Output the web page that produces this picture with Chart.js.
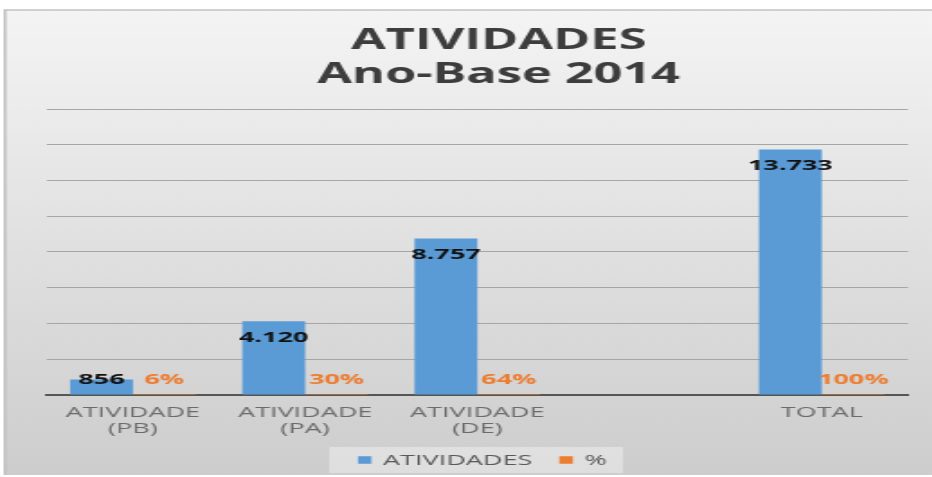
<!DOCTYPE html>
<html>
<head>
<meta charset="utf-8">
<script src="https://cdn.jsdelivr.net/npm/chart.js@4.4.1/dist/chart.umd.min.js"></script>
<style>
  html, body { margin: 0; padding: 0; background: #fff; overflow: hidden; }
  /* the source picture is stretched sideways, so the chart is drawn narrow and widened */
  #wrap { width: 518px; height: 477px; transform: scaleX(1.8); transform-origin: 0 0; }
</style>
</head>
<body>
<div id="wrap"><canvas id="chart" width="518" height="477"></canvas></div>
<script>
// Data
const categories = [['ATIVIDADE', '(PB)'], ['ATIVIDADE', '(PA)'], ['ATIVIDADE', '(DE)'], '', 'TOTAL'];
const atividades = [856, 4120, 8757, null, 13733];
const percentuais = [0.06, 0.30, 0.64, null, 1.00];
const titleLines = ['ATIVIDADES', 'Ano-Base 2014'];
const yMax = 16000;
const yStep = 2000;

Chart.defaults.font.family = '"Open Sans", sans-serif';

// thousands separator like pt-BR: 8757 -> 8.757
const fmtNum = v => String(v).replace(/\B(?=(\d{3})+(?!\d))/g, '.');
const fmtPct = v => Math.round(v * 100) + '%';

// grey frame behind everything
const frame = {
  id: 'frame',
  beforeDraw(chart) {
    const { ctx, width } = chart;
    ctx.save();
    ctx.fillStyle = '#fff';
    ctx.fillRect(0, 0, width, chart.height);
    const g = ctx.createLinearGradient(0, 10, 0, 475);
    g.addColorStop(0, '#f4f4f4');
    g.addColorStop(1, '#cdcdcd');
    ctx.fillStyle = g;
    ctx.fillRect(2.8, 10, width - 2.8, 465);
    ctx.strokeStyle = '#c2c2c2';
    ctx.lineWidth = 1.5;
    ctx.beginPath();
    ctx.moveTo(2.8, 475);
    ctx.lineTo(2.8, 10);
    ctx.lineTo(width, 10);
    ctx.stroke();
    ctx.restore();
  }
};

// legend drawn by hand so its place and spacing can follow the source
const bottomLegend = {
  id: 'bottomLegend',
  afterDraw(chart) {
    const ctx = chart.ctx;
    const cx = 268, cy = 460, box = 7.5, gap = 6.5, between = 15;
    ctx.save();
    ctx.font = '15px "Open Sans"';
    const items = chart.data.datasets.map(ds => ({
      text: ds.label, color: ds.backgroundColor, w: ctx.measureText(ds.label).width
    }));
    const total = items.reduce((s, it) => s + box + gap + it.w, 0) + between * (items.length - 1);
    let x = cx - total / 2;
    ctx.fillStyle = 'rgba(255,255,255,0.35)';
    ctx.fillRect(x - 16, cy - 13, total + 25, 26);
    ctx.textBaseline = 'middle';
    ctx.textAlign = 'left';
    items.forEach(it => {
      ctx.fillStyle = it.color;
      ctx.fillRect(x, cy - box / 2, box, box);
      x += box + gap;
      ctx.fillStyle = '#595959';
      ctx.fillText(it.text, x, cy + 1);
      x += it.w + between;
    });
    ctx.restore();
  }
};

// data labels: inside the end of each bar, kept above the axis
const valueLabels = {
  id: 'valueLabels',
  afterDatasetsDraw(chart) {
    const ctx = chart.ctx;
    ctx.save();
    ctx.font = 'bold 15px "Open Sans"';
    ctx.textAlign = 'center';
    ctx.textBaseline = 'middle';
    chart.data.datasets.forEach((ds, i) => {
      chart.getDatasetMeta(i).data.forEach((bar, j) => {
        const v = ds.data[j];
        if (v == null) return;
        const y = Math.min(bar.y + 16, bar.base - 15);
        ctx.fillStyle = i === 0 ? '#111' : '#ED7D31';
        ctx.fillText(i === 0 ? fmtNum(v) : fmtPct(v), bar.x, y);
      });
    });
    ctx.restore();
  }
};

// title sits a bit right of the plot centre in the source
const chartTitle = {
  id: 'chartTitle',
  afterDraw(chart) {
    const ctx = chart.ctx;
    ctx.save();
    ctx.font = 'bold 28px "Open Sans"';
    ctx.fillStyle = '#3d3d3d';
    ctx.textAlign = 'center';
    ctx.textBaseline = 'alphabetic';
    ctx.fillText(titleLines[0], 277, 49);
    ctx.fillText(titleLines[1], 277, 83);
    ctx.restore();
  }
};

new Chart(document.getElementById('chart'), {
  type: 'bar',
  data: {
    labels: categories,
    datasets: [
      {
        label: 'ATIVIDADES',
        data: atividades,
        backgroundColor: '#5B9BD5',
        categoryPercentage: 0.73,
        barPercentage: 1.0
      },
      {
        label: '%',
        data: percentuais,
        backgroundColor: '#ED7D31',
        inflateAmount: 0,
        categoryPercentage: 0.73,
        barPercentage: 1.0
      }
    ]
  },
  options: {
    responsive: false,
    animation: false,
    layout: { padding: { top: 109, left: 26, right: 13.6, bottom: 38 } },
    plugins: {
      title: { display: false },
      tooltip: { enabled: false },
      legend: { display: false }
    },
    scales: {
      x: {
        grid: { display: false },
        border: { color: '#555', width: 2 },
        ticks: {
          color: '#6b6b6b',
          font: { size: 15, lineHeight: 1.07 },
          padding: 2,
          maxRotation: 0,
          autoSkip: false
        }
      },
      y: {
        min: 0,
        max: yMax,
        ticks: { display: false, stepSize: yStep },
        grid: { color: '#a6a6a6', drawTicks: false },
        border: { display: false },
        afterFit(axis) { axis.width = 0; }
      }
    }
  },
  plugins: [frame, valueLabels, chartTitle, bottomLegend]
});
</script>
</body>
</html>
